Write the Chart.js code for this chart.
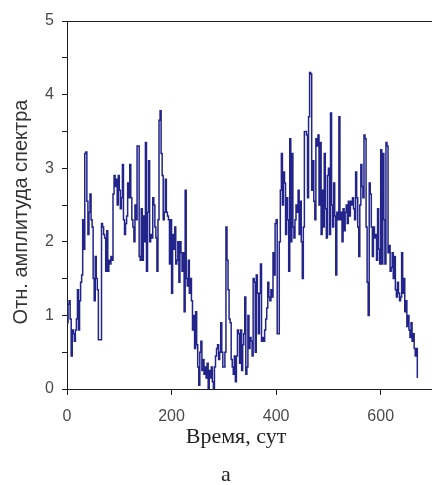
<!DOCTYPE html>
<html>
<head>
<meta charset="utf-8">
<script src="https://cdn.jsdelivr.net/npm/chart.js@4/dist/chart.umd.min.js"></script>
<style>
  html, body { margin: 0; padding: 0; background: #fff; overflow: hidden; }
  canvas { display: block; }
</style>
</head>
<body>
<canvas id="chart" width="433" height="485"></canvas>
<script>
// Sampling interval of the amplitude record, days
const STEP_DAYS = 2;

// Relative spectrum amplitude, one block per 100 days
const amp000 = [0.9,1.15,1.2,0.95,0.45,0.8,0.75,0.65,0.8,0.95,
  1.35,0.8,1.2,1.45,1.55,2.3,1.9,3.2,3.22,2.55,
  2.1,2.4,2.65,2.3,2.2,1.5,1.2,1.8,1.5,1.35,
  0.67,0.67,0.67,2.25,2.2,2.1,2.05,1.6,2.15,1.6,
  1.75,1.7,1.8,1.75,2.65,2.9,2.75,2.85,2.5,2.9];
const amp100 = [2.7,2.45,2.6,3.05,2.3,2.1,2.25,2.35,2.8,2.6,
  3.05,2.6,2.3,2.2,2.0,2.5,2.3,3.3,3.3,1.8,
  1.75,2.45,1.75,2.35,2.0,3.35,1.6,2.4,3.1,2.0,
  2.1,2.05,2.6,2.5,2.2,2.05,1.6,2.3,3.65,3.78,
  3.2,2.9,2.3,2.4,2.85,2.4,2.35,2.3,1.7,2.3];
const amp200 = [1.3,2.1,1.9,2.2,1.7,1.75,2.0,1.45,2.0,1.85,
  1.6,1.85,1.05,2.7,1.5,1.4,1.75,1.3,1.5,1.2,
  0.8,1.0,0.55,1.05,0.6,0.3,0.05,0.5,0.65,0.25,
  0.4,0.2,0.3,0.15,0.35,0.0,0.25,0.15,0.3,0.1,
  0.0,0.3,0.45,0.55,0.6,0.4,0.5,0.9,0.5,0.3];
const amp300 = [0.3,0.5,2.2,1.75,1.35,0.95,0.9,0.4,0.3,0.2,
  0.45,0.1,0.45,0.8,0.75,0.35,0.8,0.25,0.6,0.75,
  1.25,0.2,0.3,1.0,0.55,0.7,0.65,0.45,1.5,1.45,
  0.5,1.55,1.3,0.75,1.3,1.7,0.65,0.7,0.65,0.8,
  0.95,1.1,1.45,1.25,1.2,1.35,1.25,1.85,1.55,2.25];
const amp400 = [2.3,0.75,0.75,2.0,2.7,3.2,2.5,2.95,2.8,2.1,
  2.6,2.3,1.6,3.4,2.0,3.2,2.2,2.05,2.3,2.5,
  2.4,2.7,2.1,2.55,2.0,1.5,2.2,3.5,3.5,3.45,
  2.6,3.7,4.3,4.28,2.7,3.1,2.55,2.3,3.4,3.3,
  3.45,2.5,3.35,2.1,2.7,2.2,3.2,2.45,2.05,2.9];
const amp500 = [3.0,2.1,3.75,2.5,2.2,2.8,2.35,1.55,2.4,2.3,
  3.7,2.3,2.4,2.0,2.45,2.15,2.4,2.5,2.25,2.55,
  2.35,2.55,2.5,2.6,2.45,2.3,2.95,2.6,2.2,1.8,
  2.5,3.05,2.75,2.6,3.45,3.4,2.2,1.45,1.0,2.8,
  2.65,2.2,1.8,2.2,2.05,2.1,1.75,2.45,1.9,1.7];
const amp600 = [3.25,1.7,3.2,2.3,1.7,3.35,3.3,1.85,1.95,1.6,
  1.65,1.85,1.5,1.8,1.35,1.25,1.45,1.3,1.2,1.25,
  1.85,1.3,1.5,1.05,1.2,0.85,1.0,0.8,0.7,0.9,
  0.65,0.75,0.55,0.45,0.55,0.15];

// Axis ticks and texts
const xTickValues = [0, 200, 400, 600];
const xTitle = 'Время, сут';
const yTitle = 'Отн. амплитуда спектра';
const panelLabel = 'а';

const amplitude = [].concat(amp000, amp100, amp200, amp300, amp400, amp500, amp600);
const points = amplitude.map((v, i) => ({ x: i * STEP_DAYS, y: v }));

const AXIS = '#1e1e1e';
const TICK_TEXT = '#4a4a4a';

// Axis titles and the panel letter
const titlesPlugin = {
  id: 'titles',
  afterDraw(chart) {
    const { ctx } = chart;
    ctx.save();
    ctx.fillStyle = '#333';
    ctx.textAlign = 'center';
    ctx.textBaseline = 'alphabetic';

    ctx.save();
    ctx.translate(27, 212);
    ctx.rotate(-Math.PI / 2);
    ctx.font = '20px "Liberation Sans", Arial, sans-serif';
    ctx.fillText(yTitle, 0, 0);
    ctx.restore();

    ctx.fillStyle = '#222';
    ctx.font = '22px "Liberation Serif", "Times New Roman", serif';
    ctx.fillText(xTitle, 236, 443);
    ctx.fillText(panelLabel, 226, 481);
    ctx.restore();
  }
};

new Chart(document.getElementById('chart'), {
  type: 'line',
  data: {
    datasets: [{
      data: points,
      borderColor: '#22248a',
      borderWidth: 1.5,
      pointRadius: 0,
      stepped: true,
      fill: false
    }]
  },
  options: {
    responsive: false,
    animation: false,
    devicePixelRatio: 1,
    layout: { padding: { top: 21, left: 0, right: 0, bottom: 0 } },
    plugins: { legend: { display: false }, tooltip: { enabled: false } },
    scales: {
      x: {
        type: 'linear',
        min: 0,
        max: 700,
        afterBuildTicks: s => { s.ticks = xTickValues.map(v => ({ value: v })); },
        afterFit: s => { s.height = 96; },
        grid: { drawOnChartArea: false, tickLength: 6, tickColor: AXIS },
        border: { color: AXIS, width: 1 },
        ticks: {
          autoSkip: false, maxRotation: 0, padding: 12, color: TICK_TEXT,
          font: { family: '"Liberation Sans", Arial, sans-serif', size: 16 }
        }
      },
      y: {
        min: 0,
        max: 5,
        afterFit: s => { s.width = 67; },
        grid: {
          drawOnChartArea: true,
          color: c => (c.tick && c.tick.value === 5 ? AXIS : 'rgba(0,0,0,0)'),
          tickLength: 5,
          tickColor: AXIS
        },
        border: { color: AXIS, width: 1 },
        ticks: {
          stepSize: 0.5, padding: 8, color: TICK_TEXT,
          font: { family: '"Liberation Sans", Arial, sans-serif', size: 16 },
          callback: v => (Number.isInteger(v) ? String(v) : '')
        }
      }
    }
  },
  plugins: [titlesPlugin]
});
</script>
</body>
</html>
